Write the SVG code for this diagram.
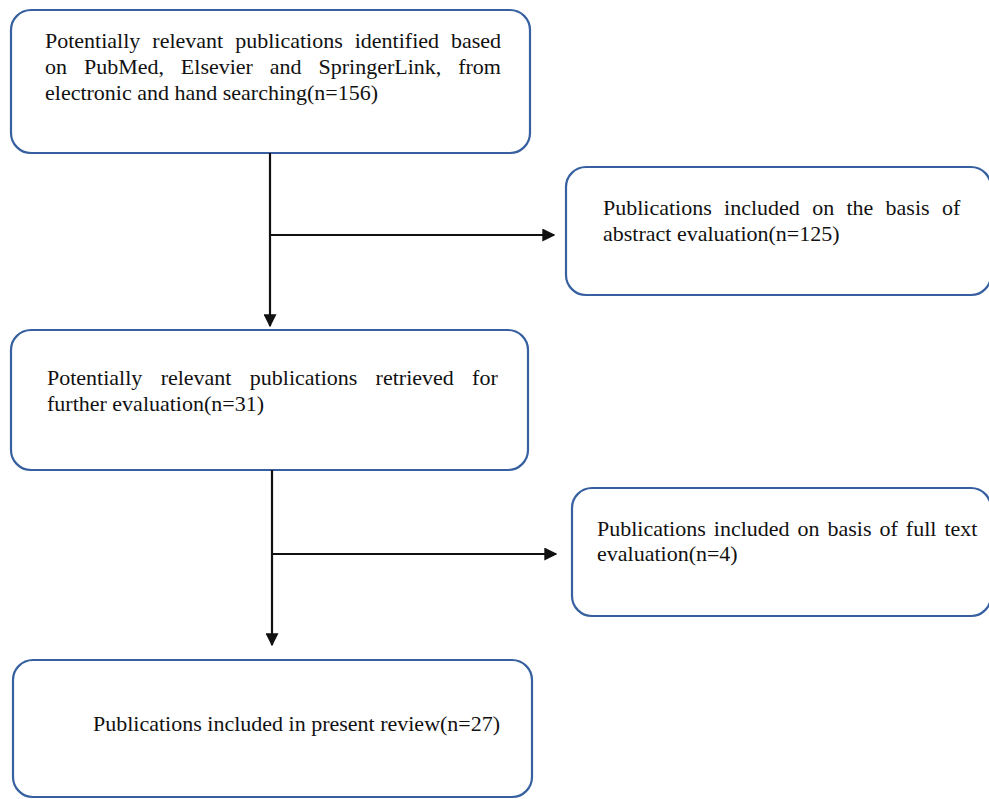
<svg xmlns="http://www.w3.org/2000/svg" width="989" height="799" viewBox="0 0 989 799">
<style>
.box{fill:#fff;stroke:#36609f;stroke-width:2.2}
.t{font-family:"Liberation Serif","Times New Roman",serif;font-size:22px;fill:#111}
.c{stroke:#111;stroke-width:2.2;fill:none}
</style>
<defs>
<marker id="ah" viewBox="0 0 10 10" refX="9" refY="5" markerWidth="13" markerHeight="13" markerUnits="userSpaceOnUse" orient="auto">
<path d="M0,0 L10,5 L0,10 z" fill="#111"/>
</marker>
</defs>
<rect width="989" height="799" fill="#fff"/>
<g id="n1">
<rect class="box" x="11" y="10" width="519" height="143" rx="20"/>
<text class="t" x="45" y="48" word-spacing="6.5">Potentially relevant publications identified based</text>
<text class="t" x="45" y="74" word-spacing="11.4">on PubMed, Elsevier and SpringerLink, from</text>
<text class="t" x="45" y="100">electronic and hand searching(n=156)</text>
</g>
<g id="n2">
<rect class="box" x="566" y="167" width="425" height="128" rx="20"/>
<text class="t" x="603" y="215" word-spacing="6.8">Publications included on the basis of</text>
<text class="t" x="603" y="241">abstract evaluation(n=125)</text>
</g>
<g id="n3">
<rect class="box" x="11" y="330" width="517" height="140" rx="20"/>
<text class="t" x="47" y="385" word-spacing="12.8">Potentially relevant publications retrieved for</text>
<text class="t" x="47" y="411">further evaluation(n=31)</text>
</g>
<g id="n4">
<rect class="box" x="572" y="488" width="419" height="128" rx="20"/>
<text class="t" x="597" y="536" word-spacing="2.5">Publications included on basis of full text</text>
<text class="t" x="597" y="561">evaluation(n=4)</text>
</g>
<g id="n5">
<rect class="box" x="13" y="660" width="519" height="137" rx="20"/>
<text class="t" x="93" y="731">Publications included in present review(n=27)</text>
</g>
<g id="connectors">
<path class="c" d="M270,153 V326" marker-end="url(#ah)"/>
<path class="c" d="M270,235 H554" marker-end="url(#ah)"/>
<path class="c" d="M272,470 V645" marker-end="url(#ah)"/>
<path class="c" d="M272,554 H556" marker-end="url(#ah)"/>
</g>
</svg>
